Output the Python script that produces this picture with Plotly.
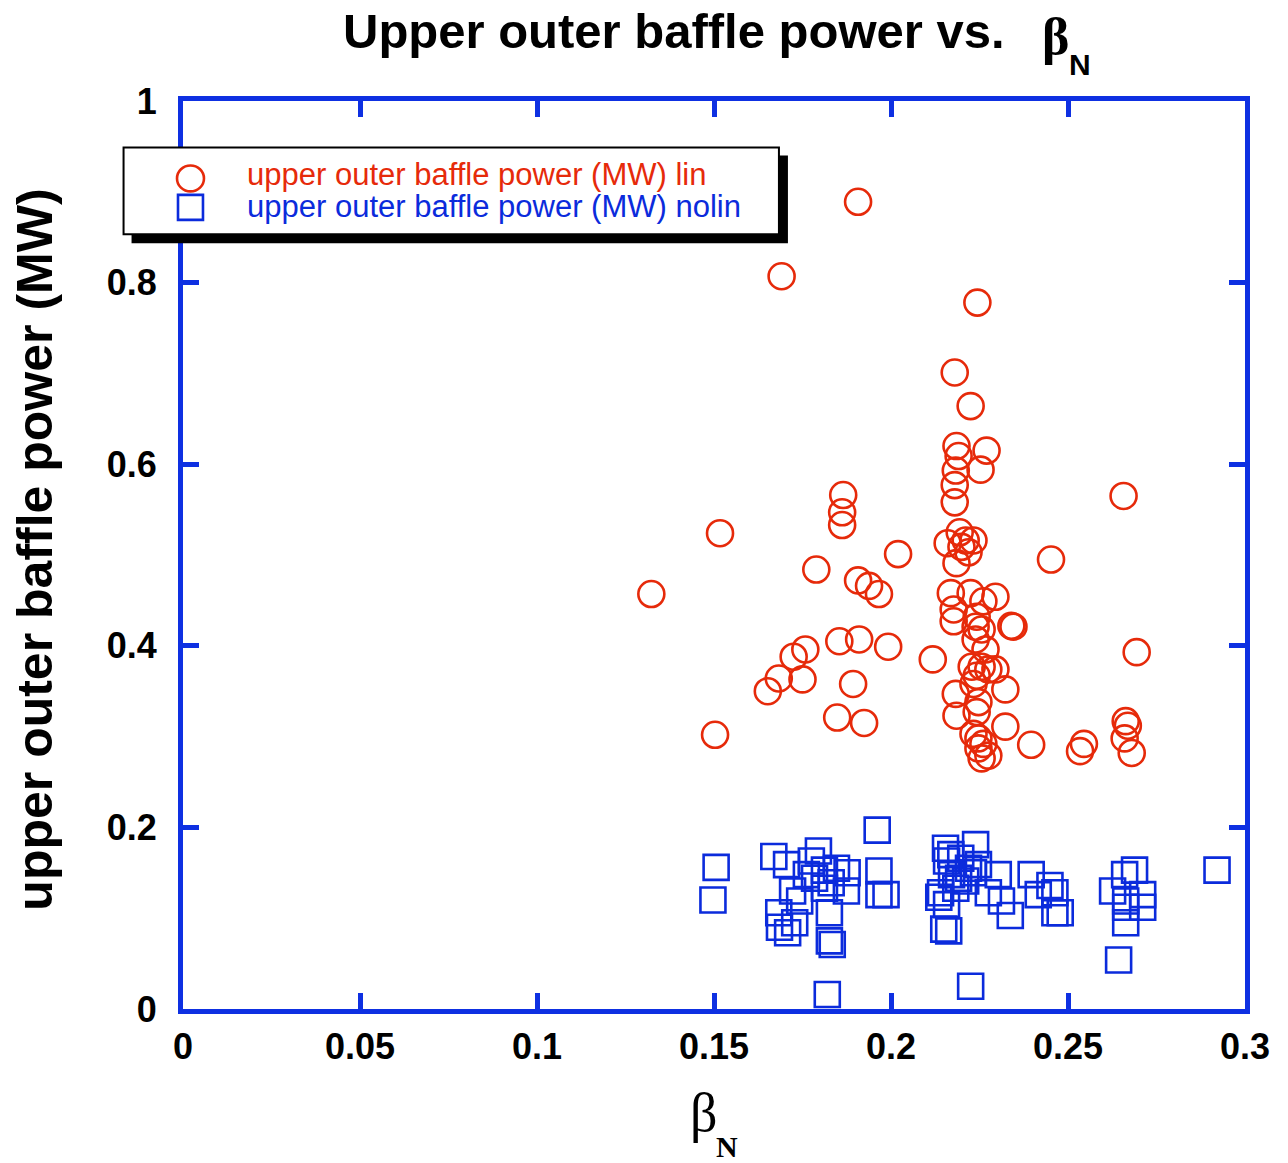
import plotly.graph_objects as go

# beta_N and upper outer baffle power (MW), "lin" runs
lin_beta = [0.1323, 0.1517, 0.1503, 0.1691, 0.1907, 0.1652, 0.1683, 0.1725, 0.1758, 0.1750,
            0.1789, 0.1865, 0.1862, 0.1862, 0.1854, 0.1848, 0.1893, 0.1910, 0.1924, 0.1907,
            0.1938, 0.1966, 0.1992, 0.2020, 0.2118, 0.2244, 0.2180, 0.2225, 0.2185, 0.2270,
            0.2191, 0.2183, 0.2253, 0.2180, 0.2180, 0.2194, 0.2160, 0.2211, 0.2233, 0.2199,
            0.2219, 0.2185, 0.2169, 0.2225, 0.2295, 0.2261, 0.2177, 0.2242, 0.2340, 0.2346,
            0.2177, 0.2239, 0.2256, 0.2239, 0.2267, 0.2228, 0.2256, 0.2275, 0.2242, 0.2295,
            0.2323, 0.2183, 0.2247, 0.2185, 0.2242, 0.2323, 0.2247, 0.2247, 0.2256, 0.2275,
            0.2396, 0.2452, 0.2657, 0.2534, 0.2545, 0.2663, 0.2669, 0.2660, 0.2680, 0.2694,
            0.2233, 0.2261, 0.2233]
lin_power = [0.457, 0.524, 0.302, 0.807, 0.889, 0.350, 0.364, 0.388, 0.396, 0.363,
             0.484, 0.566, 0.547, 0.533, 0.405, 0.321, 0.358, 0.407, 0.315, 0.472,
             0.466, 0.457, 0.399, 0.501, 0.385, 0.778, 0.701, 0.664, 0.620, 0.615,
             0.609, 0.593, 0.594, 0.577, 0.558, 0.525, 0.513, 0.516, 0.516, 0.509,
             0.503, 0.491, 0.458, 0.458, 0.454, 0.449, 0.440, 0.432, 0.422, 0.421,
             0.427, 0.421, 0.418, 0.407, 0.396, 0.377, 0.377, 0.374, 0.367, 0.374,
             0.352, 0.347, 0.338, 0.323, 0.327, 0.311, 0.298, 0.287, 0.276, 0.279,
             0.291, 0.495, 0.565, 0.284, 0.292, 0.317, 0.312, 0.298, 0.282, 0.393,
             0.358, 0.292, 0.303]

# beta_N and upper outer baffle power (MW), "nolin" runs
nolin_beta = [0.1506, 0.1497, 0.1961, 0.1669, 0.1705, 0.1795, 0.1775, 0.1812, 0.1846, 0.1876,
              0.1722, 0.1742, 0.1784, 0.1966, 0.1966, 0.1986, 0.1683, 0.1728, 0.1685, 0.1708,
              0.1826, 0.1826, 0.1834, 0.1820, 0.1874, 0.1831, 0.1761, 0.1812, 0.2921, 0.2239,
              0.2154, 0.2169, 0.2157, 0.2171, 0.2219, 0.2247, 0.2140, 0.2183, 0.2211, 0.2157,
              0.2149, 0.2163, 0.2303, 0.2312, 0.2337, 0.2396, 0.2416, 0.2449, 0.2463, 0.2463,
              0.2478, 0.2688, 0.2660, 0.2626, 0.2663, 0.2663, 0.2711, 0.2663, 0.2643, 0.2225,
              0.2711, 0.2191, 0.2135, 0.2275, 0.2197, 0.2233]
nolin_power = [0.156, 0.120, 0.197, 0.168, 0.159, 0.174, 0.163, 0.153, 0.155, 0.150,
               0.130, 0.119, 0.144, 0.152, 0.126, 0.126, 0.106, 0.095, 0.090, 0.084,
               0.106, 0.075, 0.071, 0.016, 0.130, 0.139, 0.148, 0.133, 0.153, 0.181,
               0.177, 0.170, 0.163, 0.148, 0.155, 0.159, 0.128, 0.133, 0.141, 0.115,
               0.088, 0.086, 0.148, 0.119, 0.103, 0.148, 0.126, 0.136, 0.128, 0.106,
               0.106, 0.153, 0.148, 0.130, 0.119, 0.112, 0.112, 0.095, 0.054, 0.025,
               0.126, 0.144, 0.123, 0.128, 0.166, 0.150]

x_ticks = [0, 0.05, 0.1, 0.15, 0.2, 0.25, 0.3]
x_tick_labels = ["0", "0.05", "0.1", "0.15", "0.2", "0.25", "0.3"]
y_ticks = [0, 0.2, 0.4, 0.6, 0.8, 1]
y_tick_labels = ["0", "0.2", "0.4", "0.6", "0.8", "1"]

lin_name = "upper outer baffle power (MW) lin"
nolin_name = "upper outer baffle power (MW) nolin"

RED = "#E62A0A"
BLUE = "#0B2BDC"
FRAME = "#0E30E2"

W, H = 1288, 1163
L, R, T, B = 182.5, 1245.5, 100.5, 1009.5  # plot-area edges in pixels


def px(x):
    return (x - L) / (R - L)


def py(y):
    return (B - y) / (B - T)


fig = go.Figure()
fig.add_trace(go.Scatter(
    x=lin_beta, y=lin_power, mode="markers", name=lin_name, showlegend=False,
    marker=dict(symbol="circle-open", size=26, color=RED, line=dict(width=2.6, color=RED)),
))
fig.add_trace(go.Scatter(
    x=nolin_beta, y=nolin_power, mode="markers", name=nolin_name, showlegend=False,
    marker=dict(symbol="square-open", size=25, color=BLUE, line=dict(width=2.6, color=BLUE)),
))

axis_common = dict(
    showline=True, linecolor=FRAME, linewidth=5, mirror="allticks",
    ticks="inside", ticklen=16, tickwidth=5, tickcolor=FRAME,
    showgrid=False, zeroline=False,
    tickfont=dict(family="Liberation Sans", size=36, color="black", weight="bold"),
)

fig.update_xaxes(range=[0, 0.3], tickvals=x_ticks, ticktext=x_tick_labels,
                 ticklabelstandoff=2, **axis_common)
fig.update_yaxes(range=[0, 1], tickvals=y_ticks, ticktext=y_tick_labels,
                 ticklabelstandoff=14, **axis_common)

# legend box with drop shadow
shapes = [
    dict(type="rect", xref="paper", yref="paper", layer="above",
         x0=px(131), x1=px(788), y0=py(155), y1=py(243),
         fillcolor="black", line=dict(width=0)),
    dict(type="rect", xref="paper", yref="paper", layer="above",
         x0=px(123), x1=px(779), y0=py(147), y1=py(234),
         fillcolor="white", line=dict(width=2, color="black")),
    dict(type="circle", xref="paper", yref="paper", layer="above",
         x0=px(176.5), x1=px(203.5), y0=py(165), y1=py(191),
         line=dict(width=2.6, color=RED)),
    dict(type="rect", xref="paper", yref="paper", layer="above",
         x0=px(177.5), x1=px(202.5), y0=py(194.5), y1=py(219.5),
         line=dict(width=2.6, color=BLUE)),
]

annotations = [
    dict(text=lin_name, xref="paper", yref="paper", x=px(245), y=py(174),
         xanchor="left", yanchor="middle", showarrow=False,
         font=dict(family="Liberation Sans", size=31, color=RED)),
    dict(text=nolin_name, xref="paper", yref="paper", x=px(245), y=py(206),
         xanchor="left", yanchor="middle", showarrow=False,
         font=dict(family="Liberation Sans", size=31, color=BLUE)),
    # beta and its subscript at the end of the title
    dict(text="<b>β</b>", xref="paper", yref="paper", x=px(1056), y=py(36),
         xanchor="center", yanchor="middle", showarrow=False,
         font=dict(family="Liberation Serif", size=52, color="black")),
    dict(text="<b>N</b>", xref="paper", yref="paper", x=px(1080), y=py(64),
         xanchor="center", yanchor="middle", showarrow=False,
         font=dict(family="Liberation Sans", size=30, color="black")),
    # y-axis title
    dict(text="<b>upper outer baffle power (MW)</b>", xref="paper", yref="paper",
         x=px(34), y=py(550), xanchor="center", yanchor="middle", textangle=-90,
         showarrow=False, font=dict(family="Liberation Sans", size=50, color="black")),
    # x-axis title: beta with subscript N
    dict(text="β", xref="paper", yref="paper",
         x=px(703), y=py(1114), xanchor="center", yanchor="middle",
         showarrow=False, font=dict(family="Liberation Serif", size=54, color="black")),
    dict(text="<b>N</b>", xref="paper", yref="paper",
         x=px(727), y=py(1147), xanchor="center", yanchor="middle",
         showarrow=False, font=dict(family="Liberation Serif", size=30, color="black")),
]

fig.update_layout(
    width=W, height=H,
    margin=dict(l=L, r=W - R, t=T, b=H - B),
    paper_bgcolor="white", plot_bgcolor="white",
    title=dict(
        text="<b>Upper outer baffle power vs.</b>",
        x=343 / W, xanchor="left",
        y=1 - 31 / H, yanchor="middle",
        font=dict(family="Liberation Sans", size=49, color="black"),
    ),
    shapes=shapes,
    annotations=annotations,
)

fig.write_html("out.html")
